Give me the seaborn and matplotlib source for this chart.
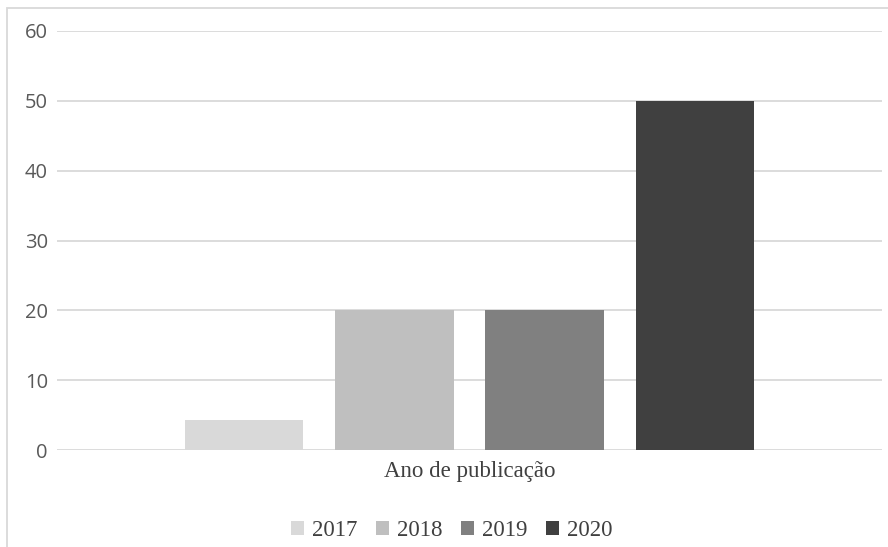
import matplotlib
matplotlib.use("Agg")
import matplotlib.pyplot as plt
import seaborn as sns
import pandas as pd
from matplotlib.patches import Rectangle, Patch

category = ["Ano de publicação"]
years = ["2017", "2018", "2019", "2020"]
values = [4.3, 20, 20, 50]
colors = ["#D9D9D9", "#BFBFBF", "#808080", "#404040"]
yticks = [0, 10, 20, 30, 40, 50, 60]

df = pd.DataFrame({"cat": category * len(years), "ano": years, "valor": values})

sns.set_style("white")
fig = plt.figure(figsize=(8.88, 5.47), dpi=100)
ax = fig.add_axes([57/888, 1-450/547, (882-57)/888, (450-31)/547])

sns.barplot(data=df, x="cat", y="valor", hue="ano", hue_order=years,
            palette=colors, width=0.7273, gap=0.2133, ax=ax,
            legend=False, saturation=1, edgecolor="none")

ax.set_xlim(-0.5, 0.5)
ax.set_ylim(0, 60)
ax.set_yticks(yticks)
ax.yaxis.grid(True, color="#D9D9D9", linewidth=1.3)
ax.set_axisbelow(True)
for s in ax.spines.values():
    s.set_visible(False)
ax.tick_params(axis="both", length=0)
ax.tick_params(axis="y", labelsize=14.5, labelcolor="#595959", pad=6.5)
for lab in ax.get_yticklabels():
    lab.set_family("Open Sans")
ax.tick_params(axis="x", labelsize=16.5, labelcolor="#404040", pad=8)
for lab in ax.get_xticklabels():
    lab.set_family("Liberation Serif")
ax.set_xlabel("")
ax.set_ylabel("")

# chart frame
fig.patches.append(Rectangle((7/888, -0.1), 1.2, 1 - 8/547 + 0.1, transform=fig.transFigure,
                             fill=False, edgecolor="#D9D9D9", linewidth=1.3))

handles = [Patch(facecolor=c, edgecolor="none") for c in colors]
leg = fig.legend(handles, years, loc="center", bbox_to_anchor=(452/888, 1-531/547), ncol=4,
                 frameon=False, prop={"family": "Liberation Serif", "size": 16.5},
                 handlelength=0.57, handleheight=0.57, handletextpad=0.35,
                 columnspacing=0.8, borderpad=0, borderaxespad=0)
for t in leg.get_texts():
    t.set_color("#404040")

fig.savefig("out.png", dpi=100)
